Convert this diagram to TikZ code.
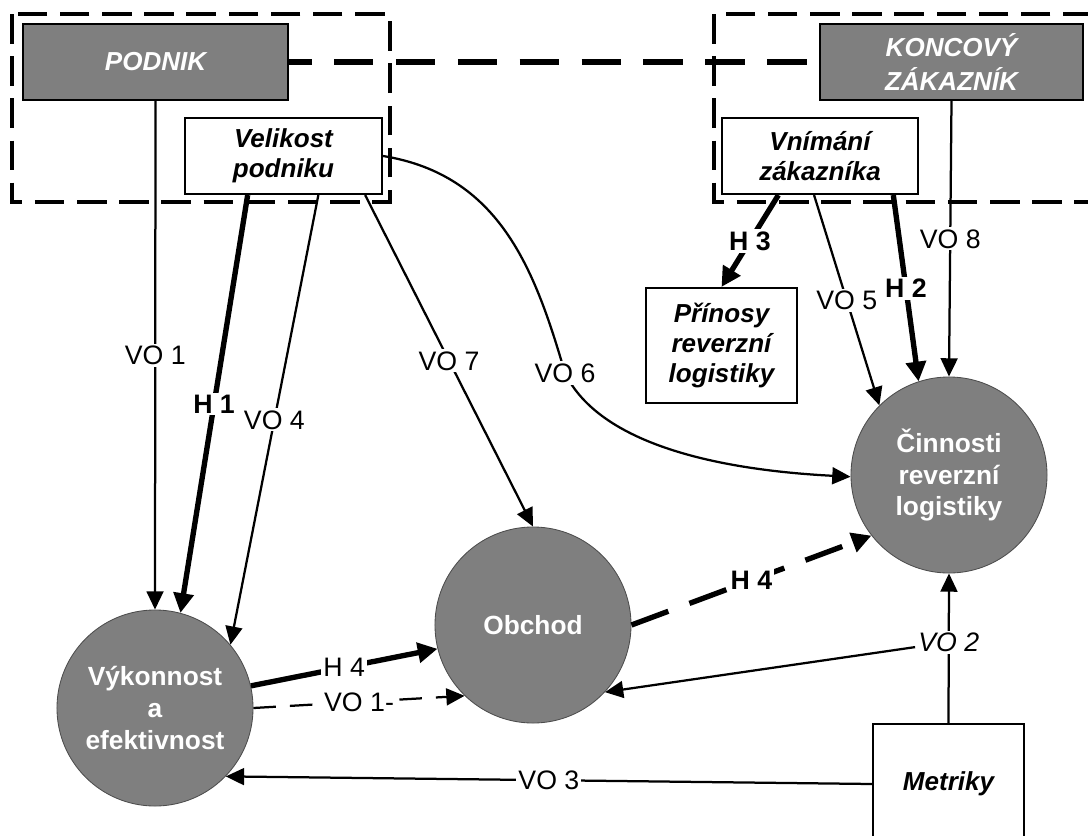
\documentclass[tikz,border=0pt]{standalone}
\usepackage{fontspec}
\setmainfont{Liberation Sans}
\usetikzlibrary{arrows.meta,calc}
\definecolor{boxgray}{RGB}{127,127,127}

\begin{document}
\begin{tikzpicture}
[ x=0.025cm, y=-0.025cm
, party/.style={rectangle, draw, line width=1.5pt, fill=boxgray, text=white, minimum height=1.9cm, inner sep=0pt, align=center, font=\fontsize{18.5}{23.5}\selectfont\bfseries\itshape}
, factor/.style={rectangle, draw, line width=1.5pt, fill=white, inner sep=0pt, align=center, font=\fontsize{18.5}{21.5}\selectfont\bfseries\itshape}
, construct/.style={circle, draw=black!70, line width=0.6pt, fill=boxgray, text=white, minimum size=4.9cm, inner sep=0pt, align=center, font=\fontsize{18.7}{22.7}\selectfont\bfseries}
, group/.style={draw, line width=2.6pt, dash pattern=on 21pt off 9pt}
, bond/.style={draw, line width=4.4pt, dash pattern=on 28pt off 16pt}
, rel/.style={draw, line width=1.6pt, -{Triangle[length=13pt,width=12pt]}}
, hyp/.style={rel, line width=3.8pt, -{Triangle[length=14pt,width=14pt]}}
, lbl/.style={fill=white, inner sep=1.5pt, font=\fontsize{19}{19}\selectfont}
, hlbl/.style={lbl, font=\fontsize{19}{19}\selectfont\bfseries}
]
\useasboundingbox (0,0) rectangle (1088,836);
% Groups:
\draw [group] (12,14) rectangle (390,202);
\draw [group] (714,14) rectangle (1095,202);
% Boxes:
\node (pod) [party, minimum width=6.625cm] at (155.5,62) {PODNIK};
\node (kon) [party, minimum width=6.575cm] at (951.5,62) {KONCOVÝ\\ZÁKAZNÍK};
\node (vel) [factor, minimum width=4.925cm, minimum height=1.9cm] at (283.5,156) {Velikost\\podniku};
\node (vni) [factor, minimum width=4.9cm, minimum height=1.9cm] at (820,156) {Vnímání\\zákazníka};
\node (pri) [factor, minimum width=3.775cm, minimum height=2.875cm] at (721.5,345.5) {Přínosy\\reverzní\\logistiky};
\node (met) [factor, minimum width=3.775cm, minimum height=3cm] at (948.5,784) {Metriky};
% Constructs:
\node (vyk) [construct] at (155,708) {Výkonnost\\a\\efektivnost};
\node (obch) [construct] at (533,625) {Obchod};
\node (cin) [construct] at (949,475) {Činnosti\\reverzní\\logistiky};
% Relations:
\draw [bond, dash phase=12pt] (pod.east) -- (kon.west);
\draw [rel] (pod.south) -- node[lbl] {VO 1} (vyk.north);
\draw [hyp] ($(vel.south west)!0.32!(vel.south east)$) -- node[hlbl] {H 1} (vyk.75);
\draw [rel] ($(vel.south west)!0.675!(vel.south east)$) -- node[lbl] {VO 4} (vyk.40);
\draw [rel] ($(vel.south west)!0.91!(vel.south east)$) -- node[lbl] {VO 7} (obch.north);
\draw [rel] (vel.east) .. controls (500,175) and (535,270) .. (565,373) node[lbl] {VO 6}
  .. controls (600,445) and (720,470) .. (cin.181);
\draw [hyp] ($(vni.south west)!0.29!(vni.south east)$) -- node[hlbl] {H 3} (pri.north);
\draw [rel] ($(vni.south west)!0.47!(vni.south east)$) -- node[lbl] {VO 5} (cin.135);
\draw [hyp] ($(vni.south west)!0.87!(vni.south east)$) -- node[hlbl] {H 2} (cin.108);
\draw [rel] (kon.south) -- node[lbl] {VO 8} (cin.north);
\draw [hyp, dash pattern=on 28pt off 16pt] (obch.east) -- node[hlbl] {H 4} (cin.218);
\draw [hyp] (vyk.13) -- node[lbl] {H 4} (obch.194);
\draw [rel, dash pattern=on 16pt off 10pt] (vyk.0) -- node[lbl] {VO 1-} (obch.226);
\draw [rel] (met.north) -- node[lbl, pos=0.54, font=\fontsize{19}{19}\selectfont\itshape] (vo2) {VO 2} (cin.south);
\draw [rel] (vo2) -- (obch.-43);
\draw [rel] (met.west) -- node[lbl] {VO 3} (vyk.-44);
\end{tikzpicture}
\end{document}
